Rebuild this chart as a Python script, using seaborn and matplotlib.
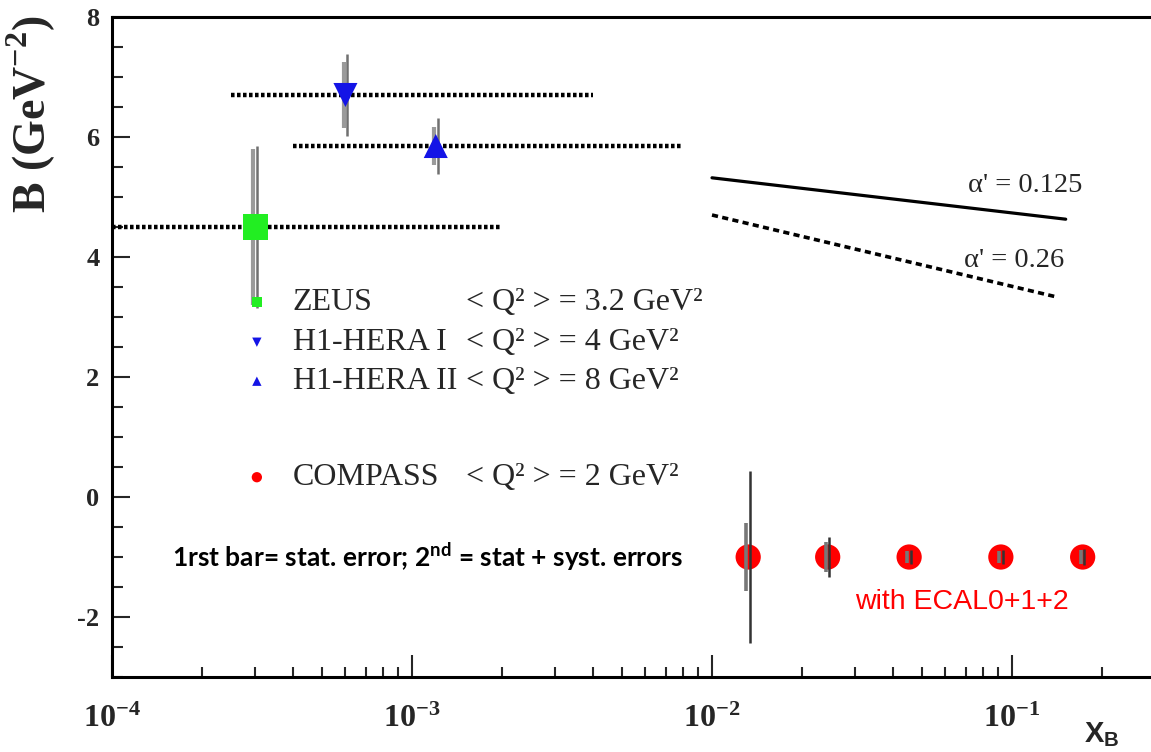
import numpy as np
import seaborn as sns
import matplotlib.pyplot as plt
from matplotlib.ticker import MultipleLocator, LogLocator, NullFormatter

#%% data
hera_names = ['ZEUS', 'H1-HERA I', 'H1-HERA II']
hera_q2 = ['< Q² > = 3.2 GeV²', '< Q² > = 4 GeV²', '< Q² > = 8 GeV²']
hera_x = [3.0e-4, 6.0e-4, 1.2e-3]
hera_b = [4.5, 6.7, 5.85]
hera_stat = [1.30, 0.55, 0.32]
hera_tot = [1.35, 0.68, 0.47]
hera_xmin = [1.0e-4, 2.5e-4, 4.0e-4]
hera_xmax = [2.0e-3, 4.0e-3, 8.0e-3]

compass_name = 'COMPASS'
compass_q2 = '< Q² > = 2 GeV²'
compass_x = [0.0132, 0.0243, 0.0454, 0.0918, 0.172]
compass_b = [-1.0, -1.0, -1.0, -1.0, -1.0]
compass_stat = [0.56, 0.25, 0.10, 0.10, 0.12]
compass_tot = [1.43, 0.33, 0.12, 0.12, 0.14]

alpha_labels = ["α' = 0.125", "α' = 0.26"]
alpha_x = [[0.01, 0.151], [0.01, 0.142]]
alpha_b = [[5.32, 4.63], [4.70, 3.33]]

xtick_pos = [1e-4, 1e-3, 1e-2, 1e-1]
xtick_labels = [r'$\mathregular{10^{-4}}$', r'$\mathregular{10^{-3}}$',
                r'$\mathregular{10^{-2}}$', r'$\mathregular{10^{-1}}$']
ytick_pos = [-2, 0, 2, 4, 6, 8]
ytick_labels = ['-2', '0', '2', '4', '6', '8']

#%% style
sns.set_style('ticks')
plt.rcParams['font.family'] = ['Liberation Serif', 'DejaVu Serif']
plt.rcParams['axes.unicode_minus'] = False

hera_colors = ['#22ee22', '#1414e6', '#1414e6']
hera_markers = ['s', 'v', '^']
hera_sizes = [330, 300, 300]
red = '#ff0000'

fig = plt.figure(figsize=(11.51, 7.52), dpi=100)
ax = fig.add_axes([0.0973, 0.0997, 0.9027, 0.8777])
ax.set_xscale('log')
ax.set_xlim(1e-4, 10 ** (-0.5367))
ax.set_ylim(-3, 8)

# x-range bins of the HERA points
ax.hlines(hera_b, hera_xmin, hera_xmax, colors='black', lw=3.2,
          linestyles=[(0, (0.8, 0.55))], zorder=1)

# error bars: stat (thick) and stat+syst (thin), slightly shifted
shift = 10 ** 0.006
ax.errorbar(np.array(hera_x) / shift, hera_b, yerr=hera_stat, fmt='none',
            ecolor='#9a9a9a', elinewidth=3.0, zorder=2)
ax.errorbar(np.array(hera_x) * shift, hera_b, yerr=hera_tot, fmt='none',
            ecolor='#707070', elinewidth=1.8, zorder=2)

for i in range(len(hera_x)):
    sns.scatterplot(x=[hera_x[i]], y=[hera_b[i]], marker=hera_markers[i],
                    s=hera_sizes[i], color=hera_colors[i], edgecolor='none',
                    ax=ax, zorder=3, legend=False)

# COMPASS projections
sns.scatterplot(x=compass_x, y=compass_b, marker='o', s=330, color=red,
                edgecolor='none', ax=ax, zorder=3, legend=False)
ax.errorbar(np.array(compass_x) / shift, compass_b, yerr=compass_stat,
            fmt='none', ecolor='#777777', elinewidth=2.6, zorder=4)
ax.errorbar(np.array(compass_x) * shift, compass_b, yerr=compass_tot,
            fmt='none', ecolor='#333333', elinewidth=1.8, zorder=4)

# alpha' predictions
sns.lineplot(x=alpha_x[0], y=alpha_b[0], color='black', lw=2.3, ax=ax)
sns.lineplot(x=alpha_x[1], y=alpha_b[1], color='black', lw=2.6,
             linestyle=(0, (1.7, 1.2)), ax=ax)
ax.text(0.0713, 5.2, alpha_labels[0], fontsize=20.5, va='center')
ax.text(0.0694, 3.95, alpha_labels[1], fontsize=20.5, va='center')

# legend block
leg_y = [3.25, 2.58, 1.93]
for i in range(3):
    ax.scatter(3.04e-4, leg_y[i], marker=hera_markers[i], s=45,
               color=hera_colors[i], edgecolor='none', zorder=3)
    ax.text(4.0e-4, leg_y[i], hera_names[i], fontsize=23, va='center')
    ax.text(1.51e-3, leg_y[i], hera_q2[i], fontsize=23, va='center')
ax.scatter(3.04e-4, 0.33, marker='o', s=55, color=red, edgecolor='none', zorder=3)
ax.text(4.0e-4, 0.33, compass_name, fontsize=23, va='center')
ax.text(1.51e-3, 0.33, compass_q2, fontsize=23, va='center')

ax.text(1.58e-4, -1.0, r'1rst bar= stat. error; 2$^{\mathregular{nd}}$ = stat + syst. errors',
        fontsize=19, fontweight='bold', family=['Lato', 'DejaVu Sans'], va='center',
        color='black')
ax.text(0.030, -1.75, 'with ECAL0+1+2', fontsize=20.5, color=red,
        family=['Liberation Sans', 'DejaVu Sans'], va='center')

#%% axes
ax.set_xticks(xtick_pos, xtick_labels, fontsize=23, fontweight='bold')
ax.xaxis.set_minor_locator(LogLocator(base=10, subs=np.arange(2, 10)))
ax.xaxis.set_minor_formatter(NullFormatter())
ax.set_yticks(ytick_pos, ytick_labels, fontsize=19, fontweight='bold')
ax.yaxis.set_minor_locator(MultipleLocator(0.5))
ax.tick_params(axis='x', which='major', direction='in', length=16, width=1.5, pad=20)
ax.tick_params(axis='x', which='minor', direction='in', length=7, width=1.5)
ax.tick_params(axis='y', which='major', direction='in', length=13, width=1.5, pad=9)
ax.tick_params(axis='y', which='minor', direction='in', length=8, width=1.5)
ax.spines['right'].set_visible(False)
for s in ['left', 'bottom', 'top']:
    ax.spines[s].set_linewidth(2.2)
    ax.spines[s].set_color('black')

fig.text(0.027, 0.848, r'B (GeV$^{\mathregular{-2}}$)', rotation=90, fontsize=33,
         fontweight='bold', ha='center', va='center')
fig.text(0.957, 0.004, r'X$_{\mathregular{B}}$', fontsize=21, fontweight='bold',
         family=['Liberation Sans', 'DejaVu Sans'], ha='center', va='bottom')

fig.savefig('out.png', dpi=100)
